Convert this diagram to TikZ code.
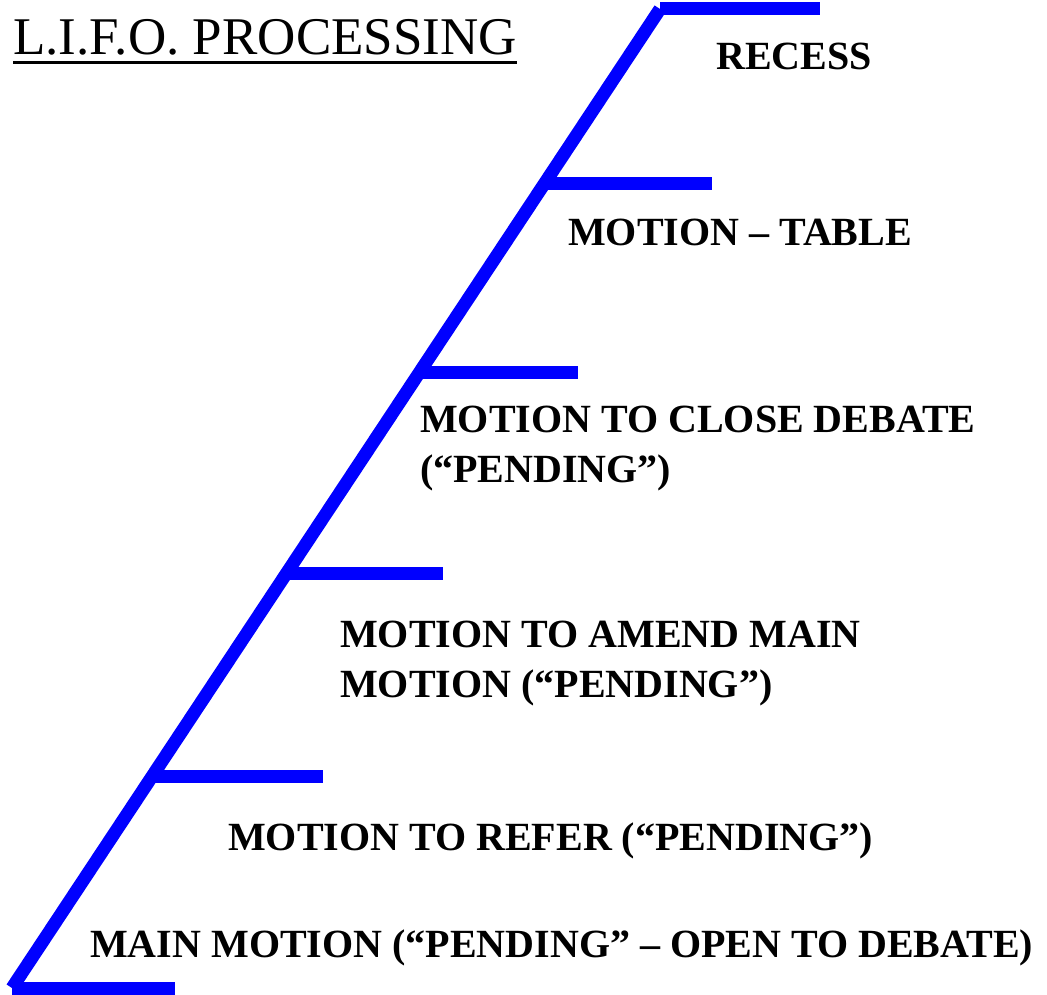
\documentclass[tikz,border=0pt]{standalone}
\usepackage{fontspec}
\setmainfont{Liberation Serif}
\begin{document}
\begin{tikzpicture}[x=1pt,y=-1pt,
                    stair/.style = {draw=blue,line width=13pt},
                    motion/.style = {anchor=base west,inner sep=0pt,align=left,
                                     font=\fontsize{40}{50}\selectfont\bfseries}]
                    \useasboundingbox (0,0) rectangle (1047,995);
                    \node [anchor=base west,inner sep=0pt,font=\fontsize{53}{60}\selectfont] (title) at (13,55) {L.I.F.O. PROCESSING};
                    \draw[line width=3pt] ([yshift=-7.5pt]title.base west) -- ([yshift=-7.5pt]title.base east);

                    \coordinate (s0) at (12,988);
                    \coordinate (s1) at (152,776);
                    \coordinate (s2) at (287,573);
                    \coordinate (s3) at (420,372);
                    \coordinate (s4) at (544,184);
                    \coordinate (s5) at (660,9);
                    \coordinate (e0) at (175,988);
                    \coordinate (e1) at (323,776);
                    \coordinate (e2) at (443,573);
                    \coordinate (e3) at (578,372);
                    \coordinate (e4) at (712,184);
                    \coordinate (e5) at (820,9);

                    \draw[stair] (s0) -- (s5);
                    \draw[stair] (s0) -- (e0);
                    \draw[stair] (s1) -- (e1);
                    \draw[stair] (s2) -- (e2);
                    \draw[stair] (s3) -- (e3);
                    \draw[stair] (s4) -- (e4);
                    \draw[stair] (s5) -- (e5);

                    \node [motion] (recess) at (716,70)  {RECESS};
                    \node [motion] (table)  at (568,246) {MOTION – TABLE};
                    \node [motion] (close)  at (420,482) {MOTION TO CLOSE DEBATE\\(“PENDING”)};
                    \node [motion] (amend)  at (340,697) {MOTION TO AMEND MAIN\\MOTION (“PENDING”)};
                    \node [motion] (refer)  at (228,850) {MOTION TO REFER (“PENDING”)};
                    \node [motion] (main)   at (90,957)  {MAIN MOTION (“PENDING” – OPEN TO DEBATE)};
                \end{tikzpicture}
\end{document}
